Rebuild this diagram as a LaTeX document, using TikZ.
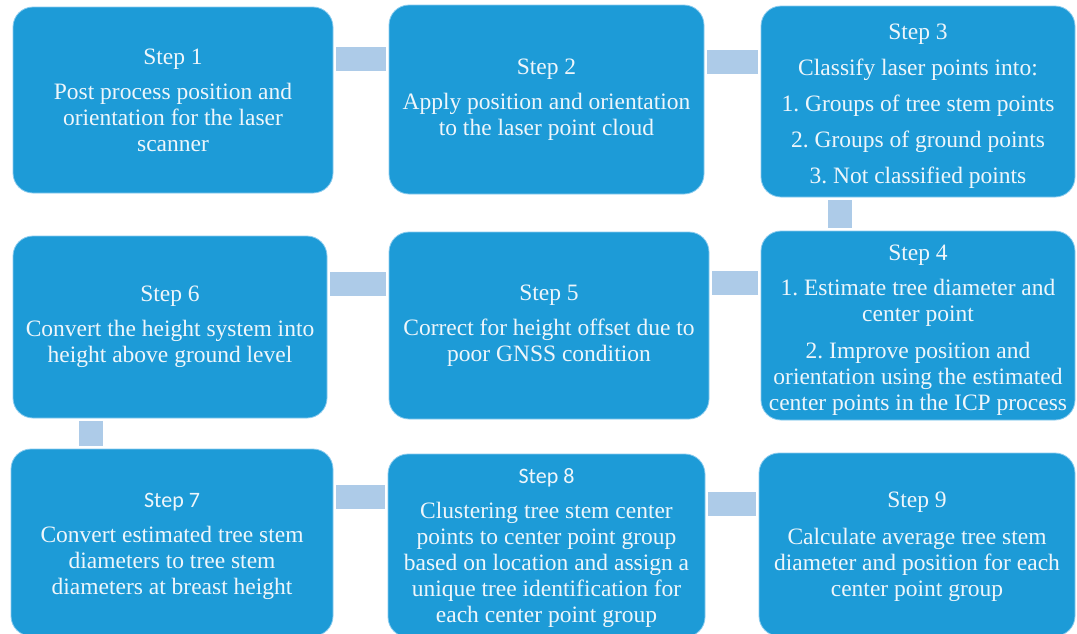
\documentclass[tikz,border=0pt]{standalone}
\usepackage{fontspec}
\setmainfont{Liberation Serif}
\newfontfamily\hdsans{Carlito}
\definecolor{boxblue}{HTML}{1D9BD7}
\definecolor{boxedge}{HTML}{8ACBEE}
\definecolor{barblue}{HTML}{ADCBE8}
\definecolor{txt}{HTML}{EEF6FB}
\tikzset{
  stepbox/.style={draw=boxedge, line width=0.8pt, fill=boxblue, rounded corners=20pt,
    inner sep=0pt, outer sep=0pt, align=center, text=txt,
    font=\frenchspacing\fontsize{23.5}{26}\selectfont},
  bar/.style={draw=barblue, line width=24pt, shorten <=3pt, shorten >=3pt},
}
\newcommand{\sanshd}[1]{{\hdsans\fontsize{22}{26}\selectfont #1}}
\newcommand{\lift}[1]{\rule{0pt}{#1}}
\begin{document}
\frenchspacing
\begin{tikzpicture}[x=1pt,y=-1pt]
\useasboundingbox (0,0) rectangle (1077,633);
\fill[white] (0,0) rectangle (1077,633);
\node[stepbox, minimum width=320pt, minimum height=186pt] (b1) at (173,100)
  {Step 1\\[9pt]Post process position and\\orientation for the laser\\scanner};
\node[stepbox, minimum width=315pt, minimum height=189pt] (b2) at (546.5,99.5)
  {Step 2\\[9pt]Apply position and orientation\\to the laser point cloud};
\node[stepbox, minimum width=314pt, minimum height=191pt] (b3) at (918,101.5)
  {\lift{24pt}Step 3\\[10pt]Classify laser points into:\\[10pt]1. Groups of tree stem points\\[10pt]2. Groups of ground points\\[10pt]3. Not classified points};
\node[stepbox, minimum width=314pt, minimum height=189pt] (b4) at (918,325.5)
  {\lift{24pt}Step 4\\[9pt]1. Estimate tree diameter and\\center point\\[11pt]2. Improve position and\\orientation using the estimated\\center points in the ICP process};
\node[stepbox, minimum width=320pt, minimum height=187pt] (b5) at (549,325.5)
  {Step 5\\[9pt]Correct for height offset due to\\poor GNSS condition};
\node[stepbox, minimum width=314pt, minimum height=182pt] (b6) at (170,327)
  {Step 6\\[9pt]Convert the height system into\\height above ground level};
\node[stepbox, minimum width=322pt, minimum height=187pt] (b7) at (172,542.5)
  {\lift{22pt}\sanshd{Step 7}\\[9pt]Convert estimated tree stem\\diameters to tree stem\\diameters at breast height};
\node[stepbox, minimum width=317pt, minimum height=183pt] (b8) at (546.5,545.5)
  {\lift{21pt}\sanshd{Step 8}\\[9pt]Clustering tree stem center\\points to center point group\\based on location and assign a\\unique tree identification for\\each center point group};
\node[stepbox, minimum width=316pt, minimum height=183pt] (b9) at (917,544.5)
  {\lift{20pt}Step 9\\[11pt]Calculate average tree stem\\diameter and position for each\\center point group};
\draw[bar] (b1.east |- 0,59) -- (b2.west |- 0,59);
\draw[bar] (b2.east |- 0,61.5) -- (b3.west |- 0,61.5);
\draw[bar] (b3.south -| 840,0) -- (b4.north -| 840,0);
\draw[bar] (b4.west |- 0,283) -- (b5.east |- 0,283);
\draw[bar] (b5.west |- 0,283.5) -- (b6.east |- 0,283.5);
\draw[bar] (b6.south -| 91,0) -- (b7.north -| 91,0);
\draw[bar] (b7.east |- 0,496.5) -- (b8.west |- 0,496.5);
\draw[bar] (b8.east |- 0,504) -- (b9.west |- 0,504);
\end{tikzpicture}
\end{document}
